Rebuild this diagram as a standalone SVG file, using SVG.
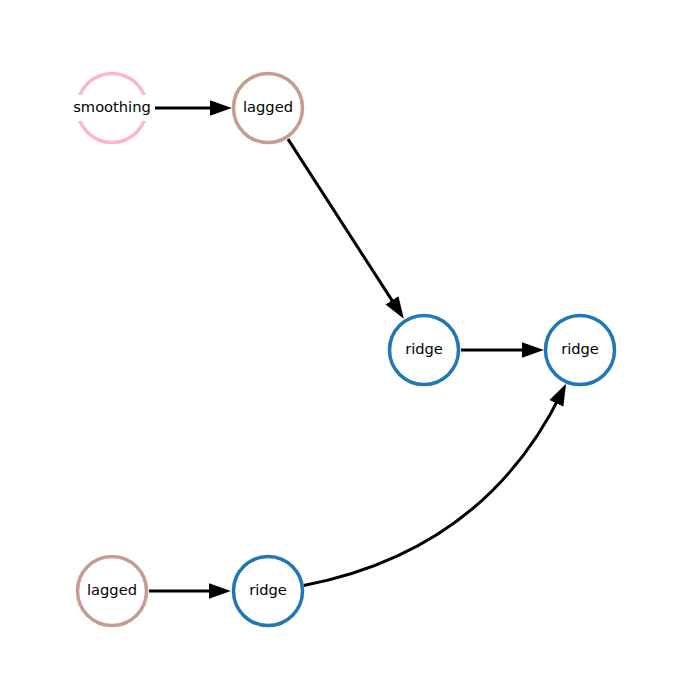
<svg xmlns="http://www.w3.org/2000/svg" width="700" height="700" viewBox="0 0 700 700">
<style>
.edge{fill:none;stroke:#000;stroke-width:3;}
.node{fill:#fff;stroke-width:3.5;}
.blue{stroke:#1f77b4;}
.brown{stroke:#c49c94;}
.pink{stroke:#f7b6d2;}
.lbl{font-family:"DejaVu Sans",sans-serif;font-size:14.67px;fill:#000;text-anchor:middle;}
</style>
<defs>
<marker id="arr" markerUnits="userSpaceOnUse" markerWidth="22" markerHeight="16" viewBox="0 -7 20 14" refX="12" refY="0" orient="auto">
<path d="M0,-7 L20,0 L0,7 z" fill="#000"/>
</marker>
</defs>
<rect width="700" height="700" fill="#fff"/>
<g id="edges">
<path class="edge" d="M149,108 L223,108" marker-end="url(#arr)"/>
<path class="edge" d="M288,139.1 L399.1,311.4" marker-end="url(#arr)"/>
<path class="edge" d="M461,350 L535,350" marker-end="url(#arr)"/>
<path class="edge" d="M149,591 L222,591" marker-end="url(#arr)"/>
<path class="edge" d="M303.8,585.5 Q485,550.3 562.2,391.6" marker-end="url(#arr)"/>
</g>
<g id="n_smoothing">
<circle class="node pink" cx="112" cy="108" r="34.5"/>
<rect x="69" y="95" width="86" height="26" fill="#fff"/>
<text class="lbl" x="112" y="112">smoothing</text>
</g>
<g id="n_lagged1">
<circle class="node brown" cx="268" cy="108" r="34.5"/>
<text class="lbl" x="268" y="112">lagged</text>
</g>
<g id="n_ridge1">
<circle class="node blue" cx="424" cy="350" r="34.5"/>
<text class="lbl" x="424" y="354">ridge</text>
</g>
<g id="n_ridge2">
<circle class="node blue" cx="580" cy="350" r="34.5"/>
<text class="lbl" x="580" y="354">ridge</text>
</g>
<g id="n_lagged2">
<circle class="node brown" cx="112" cy="591" r="34.5"/>
<text class="lbl" x="112" y="595">lagged</text>
</g>
<g id="n_ridge3">
<circle class="node blue" cx="268" cy="591" r="34.5"/>
<text class="lbl" x="268" y="595">ridge</text>
</g>
</svg>
